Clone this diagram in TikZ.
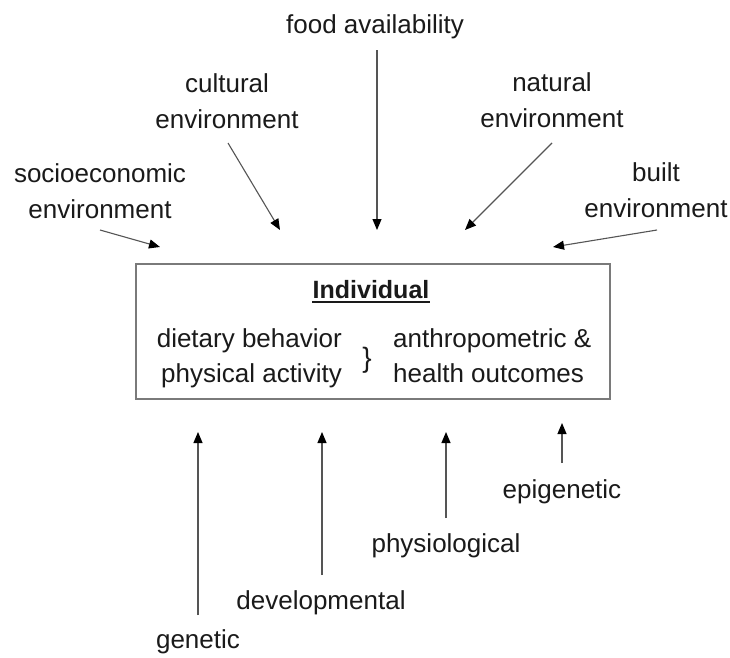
\documentclass[tikz,border=0pt]{standalone}
\usepackage{fontspec}
\setmainfont{Liberation Sans}
\usetikzlibrary{arrows.meta}
\definecolor{txt}{HTML}{1A1A1A}
\definecolor{ln}{HTML}{555555}
\definecolor{bx}{HTML}{7A7A7A}
\begin{document}
\begin{tikzpicture}[x=1pt,y=-1pt,
  lbl/.style={font=\fontsize{26}{36}\selectfont, text=txt, inner sep=0pt, align=center, anchor=base},
  intext/.style={font=\fontsize{26}{35}\selectfont, text=txt, inner sep=0pt, anchor=base},
  arr/.style={draw=ln, line width=1.1pt, -{Triangle[length=11pt,width=9pt,fill=black,color=black]}}]
\useasboundingbox (0,0) rectangle (730,657);
\fill[white] (0,0) rectangle (730,657);

% central box
\node[draw=bx, line width=1.8pt, minimum width=474pt, minimum height=135pt, inner sep=0pt, anchor=north west] (box) at (135,263) {};
\node[intext, font=\bfseries\fontsize{25}{30}\selectfont] (indiv) at (371,298) {Individual};
\draw[txt, line width=1.6pt] ([yshift=-4pt]indiv.base west) -- ([yshift=-4pt]indiv.base east);
\node[intext, anchor=base east] (beh1) at (342,347) {dietary behavior};
\node[intext, anchor=base east] (beh2) at (342,382) {physical activity};
\node[intext, anchor=center, font=\fontsize{28}{30}\selectfont] (brace) at (367,360) {\}};
\node[intext, anchor=base west] (out1) at (393,347) {anthropometric \&};
\node[intext, anchor=base west] (out2) at (393,382) {health outcomes};

% top labels (anchor=base is the baseline of the last line)
\node[lbl] (food) at (375,33) {food availability};
\node[lbl] (cult) at (227,128) {cultural\\environment};
\node[lbl] (socio) at (100,218) {socioeconomic\\environment};
\node[lbl] (nat) at (552,127) {natural\\environment};
\node[lbl] (built) at (656,217) {built\\environment};

% bottom labels
\node[lbl] (gen) at (198,648) {genetic};
\node[lbl] (dev) at (321,609) {developmental};
\node[lbl] (phys) at (446,552) {physiological};
\node[lbl] (epi) at (562,498) {epigenetic};

% arrow endpoints
\coordinate (foodS) at (377,50);   \coordinate (foodE) at (377,230);
\coordinate (cultS) at (228,143);  \coordinate (cultE) at (280,230);
\coordinate (socS) at (100,230);   \coordinate (socE) at (160,247);
\coordinate (natS) at (552,143);   \coordinate (natE) at (465,230);
\coordinate (bltS) at (657,230);   \coordinate (bltE) at (553,247);
\coordinate (genS) at (198,615);   \coordinate (genE) at (198,432);
\coordinate (devS) at (322,575);   \coordinate (devE) at (322,432);
\coordinate (phyS) at (446,518);   \coordinate (phyE) at (446,432);
\coordinate (epiS) at (562,463);   \coordinate (epiE) at (562,423);

\draw[arr] (foodS) -- (foodE);
\draw[arr] (cultS) -- (cultE);
\draw[arr] (socS) -- (socE);
\draw[arr] (natS) -- (natE);
\draw[arr] (bltS) -- (bltE);
\draw[arr] (genS) -- (genE);
\draw[arr] (devS) -- (devE);
\draw[arr] (phyS) -- (phyE);
\draw[arr] (epiS) -- (epiE);
\end{tikzpicture}
\end{document}
